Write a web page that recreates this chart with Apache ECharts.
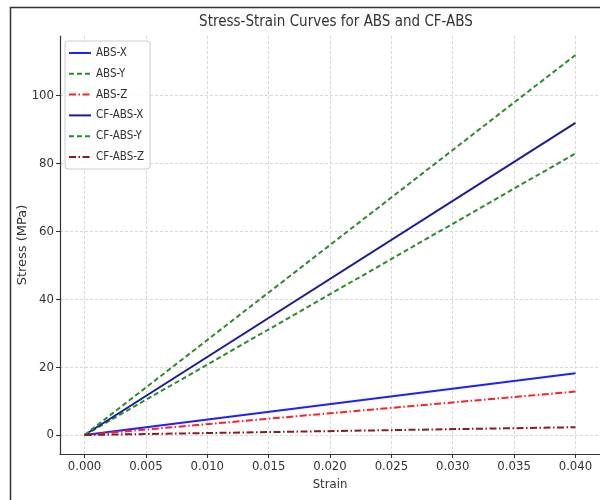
<!DOCTYPE html>
<html>
<head>
<meta charset="utf-8">
<script src="https://cdn.jsdelivr.net/npm/echarts@6/dist/echarts.min.js"></script>
<style>
  html, body { margin: 0; padding: 0; background: #fff; }
  #chart { width: 600px; height: 500px; }
</style>
</head>
<body>
<div id="chart"></div>
<script>
// strain points (linear curves from origin)
const strain = [0, 0.04];
const xTicks = [0, 0.005, 0.01, 0.015, 0.02, 0.025, 0.03, 0.035, 0.04];
const yTicks = [0, 20, 40, 60, 80, 100];

// stress values (MPa) at each strain point
const absX = [0, 18.2];
const absY = [0, 83];
const absZ = [0, 12.8];
const cfX = [0, 92];
const cfY = [0, 112];
const cfZ = [0, 2.3];

const font = 'DejaVu Sans Condensed, DejaVu Sans, sans-serif';

function mk(name, vals, color, type) {
  return {
    name: name,
    type: 'line',
    symbol: 'none',
    data: strain.map((s, i) => [s, vals[i]]),
    lineStyle: { color: color, width: 2, type: type },
    itemStyle: { color: color }
  };
}

var option = {
  backgroundColor: '#ffffff',
  animation: false,
  textStyle: { fontFamily: font },
  title: {
    text: 'Stress-Strain Curves for ABS and CF-ABS',
    left: 331, top: 10, textAlign: 'center',
    textStyle: { fontFamily: font, fontSize: 15, fontWeight: 'normal', color: '#333' }
  },
  grid: { left: 60, top: 36, right: -3, bottom: 46 },
  legend: {
    orient: 'vertical',
    left: 65, top: 41,
    itemWidth: 22, itemHeight: 12, itemGap: 8.8,
    padding: [6, 6, 6, 3],
    backgroundColor: 'rgba(255,255,255,0.85)',
    borderColor: '#ccc', borderWidth: 1, borderRadius: 3,
    itemStyle: { opacity: 0 },
    textStyle: { fontFamily: font, fontSize: 11.5, color: '#333' },
    data: ['ABS-X', 'ABS-Y', 'ABS-Z', 'CF-ABS-X', 'CF-ABS-Y', 'CF-ABS-Z']
  },
  xAxis: {
    type: 'value',
    min: -0.002, max: 0.042,
    name: 'Strain', nameLocation: 'middle', nameGap: 24, nameMoveOverlap: false,
    nameTextStyle: { fontFamily: font, fontSize: 13, color: '#333' },
    axisLine: { show: true, onZero: false, lineStyle: { color: '#333', width: 1.2 } },
    axisTick: { show: true, length: 4, customValues: xTicks, lineStyle: { color: '#333' } },
    axisLabel: { customValues: xTicks, fontFamily: font, fontSize: 13, color: '#333', margin: 6,
      formatter: v => v.toFixed(3) },
    splitLine: { show: true, lineStyle: { color: '#d8d8d8', type: [3, 2], width: 1 } }
  },
  yAxis: {
    type: 'value',
    min: -5.6, max: 117.6,
    name: 'Stress (MPa)', nameLocation: 'middle', nameGap: 31, nameMoveOverlap: false,
    nameTextStyle: { fontFamily: 'DejaVu Sans, sans-serif', fontSize: 13, color: '#333' },
    axisLine: { show: true, onZero: false, lineStyle: { color: '#333', width: 1.2 } },
    axisTick: { show: true, length: 4, customValues: yTicks, lineStyle: { color: '#333' } },
    axisLabel: { customValues: yTicks, fontFamily: font, fontSize: 13, color: '#333', margin: 6 },
    splitLine: { show: true, lineStyle: { color: '#d8d8d8', type: [3, 2], width: 1 } }
  },
  graphic: [{
    type: 'rect',
    shape: { x: 10.5, y: 7.5, width: 600, height: 500 },
    style: { fill: 'none', stroke: '#333', lineWidth: 1.5 },
    silent: true
  }],
  series: [
    mk('ABS-X', absX, '#1f1fff', 'solid'),
    mk('ABS-Y', absY, '#2a8c2a', [5, 3]),
    mk('ABS-Z', absZ, '#ff2020', [7, 2.5, 1.5, 2.5]),
    mk('CF-ABS-X', cfX, '#1c1c96', 'solid'),
    mk('CF-ABS-Y', cfY, '#2a8c2a', [5, 3]),
    mk('CF-ABS-Z', cfZ, '#8b1a1a', [7, 2.5, 1.5, 2.5])
  ]
};

const chart = echarts.init(document.getElementById('chart'), null, { renderer: 'canvas' });
chart.setOption(option);
</script>
</body>
</html>
